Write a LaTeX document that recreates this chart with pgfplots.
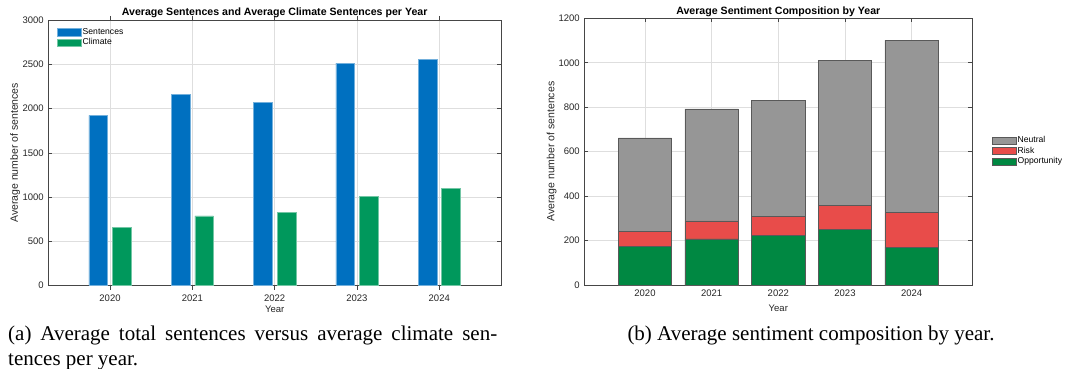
\documentclass[border=0pt]{standalone}
\usepackage{fontspec}
\setmainfont{Liberation Sans}
\newfontfamily\capfont{Liberation Serif}
\usepackage{pgfplots}
\pgfplotsset{compat=1.18}
\definecolor{mblue}{RGB}{0,112,192}
\definecolor{mgreenA}{RGB}{0,152,92}
\definecolor{mgreenB}{RGB}{0,136,66}
\definecolor{mred}{RGB}{232,76,74}
\definecolor{mgray}{RGB}{150,150,150}
\definecolor{axcol}{RGB}{70,70,70}
\definecolor{gridcol}{RGB}{222,222,222}
\pgfplotsset{
  mylegend/.style={legend image code/.code={\draw[##1] (0pt,-3.6pt) rectangle (24pt,3.6pt);}},
  mystyle/.style={
    scale only axis,
    axis line style={axcol, line width=0.8pt},
    tick style={axcol, line width=0.6pt},
    major tick length=4pt,
    tick align=inside,
    grid=major,
    major grid style={gridcol, line width=0.6pt},
    /pgf/number format/assume math mode=true,
    /pgf/number format/1000 sep={},
    ticklabel style={font=\fontsize{9.5}{11}\selectfont, text=black!85},
    xtick={1,2,3,4,5},
    xticklabels={2020,2021,2022,2023,2024},
    xticklabel style={anchor=base, yshift=-11.5pt},
    yticklabel style={anchor=east, xshift=-1pt},
    xlabel={Year},
    xlabel style={at={(axis description cs:0.5,0)}, anchor=base, yshift=-26.3pt, font=\fontsize{9.5}{11}\selectfont, text=black!85},
    ylabel={Average number of sentences},
    ylabel style={anchor=center, font=\fontsize{10.5}{12}\selectfont, text=black!85},
    every axis title shift=0pt,
    title style={at={(axis description cs:0.5,1)}, anchor=base, font=\bfseries\fontsize{10.6}{12}\selectfont},
    legend cell align=left,
    legend style={draw=none, fill=none, inner sep=0pt, row sep=0pt,
      font=\fontsize{8.6}{10}\selectfont,
      nodes={inner sep=1pt, text height=6.5pt, text depth=2pt}},
  }
}
\begin{document}
\begin{tikzpicture}
\path[use as bounding box] (0,0) rectangle (1065pt,-369pt);

\begin{axis}[mystyle,
  at={(48.3pt,-285.7pt)}, anchor=south west,
  width=452.7pt, height=265.7pt,
  xmin=0.25, xmax=5.75, ymin=0, ymax=3000,
  ytick={0,500,1000,1500,2000,2500,3000},
  ylabel style={at={(axis description cs:-0.073,0.5)}},
  title style={yshift=4pt},
  title={Average Sentences and Average Climate Sentences per Year},
  ybar, bar width=0.227,
  legend style={at={(0,1)}, anchor=north west, xshift=8.7pt, yshift=-6.7pt},
]
\addplot[fill=mblue, draw=mblue!55!white, line width=0.5pt, bar shift=-0.143, mylegend]
  coordinates {(1,1923) (2,2164) (3,2066) (4,2514) (5,2556)};
\addlegendentry{Sentences}
\addplot[fill=mgreenA, draw=mgreenA!55!white, line width=0.5pt, bar shift=0.143, mylegend]
  coordinates {(1,662) (2,787) (3,828) (4,1009) (5,1099)};
\addlegendentry{Climate}
\end{axis}

\begin{axis}[mystyle,
  at={(584.3pt,-285pt)}, anchor=south west,
  width=388pt, height=266.7pt,
  xmin=0.09, xmax=5.91, ymin=0, ymax=1200,
  ytick={0,200,400,600,800,1000,1200},
  ylabel style={at={(axis description cs:-0.084,0.5)}},
  title style={yshift=3.6pt},
  title={Average Sentiment Composition by Year},
  ybar stacked, bar width=0.8,
  reverse legend,
  legend style={at={(1,1)}, anchor=north west, xshift=19.4pt, yshift=-116.7pt},
]
\addplot[fill=mgreenB, draw=black!65, line width=0.7pt, mylegend]
  coordinates {(1,175) (2,207) (3,223) (4,249) (5,170)};
\addlegendentry{Opportunity}
\addplot[fill=mred, draw=black!65, line width=0.7pt, mylegend]
  coordinates {(1,66) (2,81) (3,86) (4,110) (5,157)};
\addlegendentry{Risk}
\addplot[fill=mgray, draw=black!65, line width=0.7pt, mylegend]
  coordinates {(1,421) (2,504) (3,523) (4,652) (5,774)};
\addlegendentry{Neutral}
\end{axis}

\node[anchor=base west, inner sep=0pt] at (8pt,-340pt)
  {\capfont\fontsize{21}{25}\selectfont\makebox[489pt][s]{(a) Average total sentences versus average climate sen-}};
\node[anchor=base west, inner sep=0pt] at (8pt,-365pt)
  {\capfont\fontsize{21}{25}\selectfont tences per year.};
\node[anchor=base, inner sep=0pt] at (811pt,-340pt)
  {\capfont\fontsize{21}{25}\selectfont (b) Average sentiment composition by year.};
\end{tikzpicture}
\end{document}
